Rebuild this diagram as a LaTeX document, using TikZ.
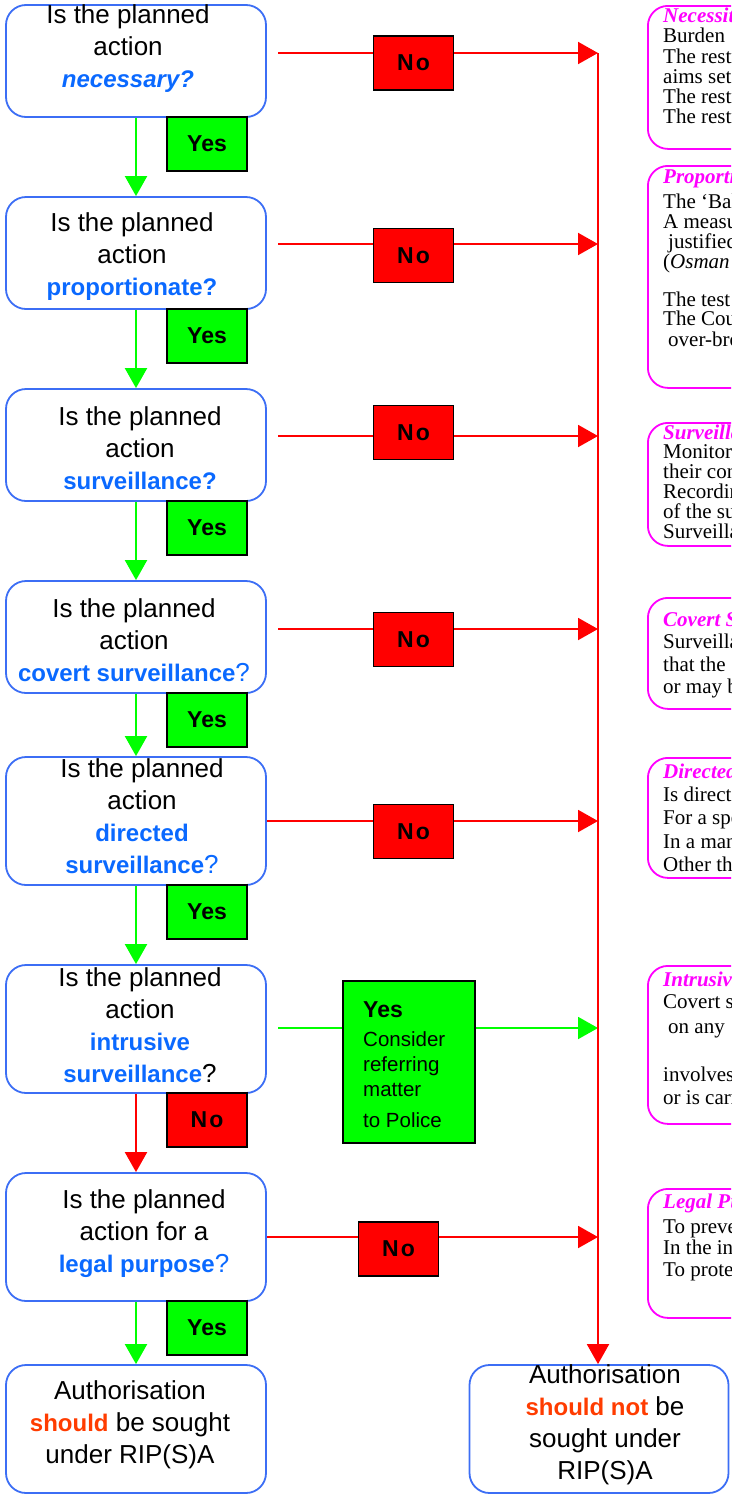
\documentclass[tikz,border=0pt]{standalone}
\usepackage{fontspec}
\setmainfont{Liberation Serif}
\setsansfont{Liberation Sans}
\usetikzlibrary{arrows.meta}

\definecolor{qblue}{RGB}{60,110,245}
\definecolor{kblue}{RGB}{10,105,255}
\definecolor{ygreen}{RGB}{0,255,0}
\definecolor{nred}{RGB}{255,0,0}
\definecolor{pmag}{RGB}{255,0,255}
\definecolor{hot}{RGB}{255,60,0}

% emphasised words inside the question boxes
\newcommand\qkey[1]{{\bfseries\fontsize{24}{32}\selectfont\color{kblue}#1}}
\newcommand\hotword[1]{{\bfseries\fontsize{24}{32}\selectfont\color{hot}#1}}

\begin{document}
\begin{tikzpicture}[x=1pt,y=-1pt,
  qbox/.style={draw=qblue, line width=1.8pt, rounded corners=20pt, fill=white,
               minimum width=260pt, inner sep=0pt},
  qtext/.style={font=\sffamily\fontsize{26}{32}\selectfont, align=center, inner sep=0pt},
  yesbox/.style={draw=black, line width=1.6pt, fill=ygreen, minimum width=80pt,
                 minimum height=54pt, inner sep=0pt,
                 font=\sffamily\bfseries\fontsize{23}{28}\selectfont},
  nobox/.style={yesbox, fill=nred},
  pbox/.style={draw=pmag, line width=1.8pt, rounded corners=20pt, minimum width=160pt,
               anchor=north west, inner sep=0pt},
  ptitle/.style={font=\bfseries\itshape\fontsize{21}{21}\selectfont, text=pmag,
                 anchor=base west, inner sep=0pt},
  ptext/.style={font=\fontsize{21}{21}\selectfont, anchor=base west, inner sep=0pt},
  garrow/.style={draw=ygreen, line width=2pt, -{Triangle[length=20pt,width=22pt]}},
  rarrow/.style={draw=nred, line width=2pt, -{Triangle[length=20pt,width=22pt]}}
]
\useasboundingbox (0,0) rectangle (731,1494);
\clip (0,0) rectangle (731,1494);

% ---------- question boxes ----------
\node[qbox, minimum height=112pt] (q1) at (136,61) {};
\node[qbox, minimum height=112pt] (q2) at (136,253) {};
\node[qbox, minimum height=112pt] (q3) at (136,445) {};
\node[qbox, minimum height=112pt] (q4) at (136,637) {};
\node[qbox, minimum height=128pt] (q5) at (136,821) {};
\node[qbox, minimum height=128pt] (q6) at (136,1029) {};
\node[qbox, minimum height=128pt] (q7) at (136,1237) {};
\node[qbox, minimum height=128pt] (a1) at (136,1429) {};
\node[qbox, minimum height=128pt, minimum width=259pt] (a2) at (599,1429) {};

% ---------- downward flow ----------
\draw[garrow] (q1.south) -- (q2.north);
\draw[garrow] (q2.south) -- (q3.north);
\draw[garrow] (q3.south) -- (q4.north);
\draw[garrow] (q4.south) -- (q5.north);
\draw[garrow] (q5.south) -- (q6.north);
\draw[rarrow] (q6.south) -- (q7.north);
\draw[garrow] (q7.south) -- (a1.north);

% ---------- branches to the right-hand rail ----------
\coordinate (rail) at (598,53);
\coordinate (h1) at (278,53);
\coordinate (h2) at (278,244);
\coordinate (h3) at (278,436);
\coordinate (h4) at (278,629);
\coordinate (h6) at (278,1028);
\draw[rarrow] (h1) -- (h1 -| rail);
\draw[rarrow] (h2) -- (h2 -| rail);
\draw[rarrow] (h3) -- (h3 -| rail);
\draw[rarrow] (h4) -- (h4 -| rail);
\draw[rarrow] (q5.east) -- (q5.east -| rail);
\draw[garrow] (h6) -- (h6 -| rail);
\draw[rarrow] (q7.east) -- (q7.east -| rail);
\draw[rarrow] (rail) -- (rail |- a2.north);

% ---------- Yes / No labels ----------
\node[yesbox] (y1) at (207,144) {Yes};
\node[yesbox] (y2) at (207,336) {Yes};
\node[yesbox] (y3) at (207,528) {Yes};
\node[yesbox] (y4) at (207,720) {Yes};
\node[yesbox] (y5) at (207,912) {Yes};
\node[nobox]  (n6) at (207,1120) {N\kern2pt o};
\node[yesbox] (y7) at (207,1328) {Yes};

\node[nobox] (n1) at (413.5,63) {N\kern2pt o};
\node[nobox] (n2) at (413.5,255.5) {N\kern2pt o};
\node[nobox] (n3) at (413.5,432.5) {N\kern2pt o};
\node[nobox] (n4) at (413.5,639.5) {N\kern2pt o};
\node[nobox] (n5) at (413.5,831.5) {N\kern2pt o};
\node[nobox] (n7) at (398.5,1249) {N\kern2pt o};

\node[yesbox, minimum width=132pt, minimum height=162pt] (y6) at (409,1062) {};
\node[anchor=north west, inner sep=0pt, align=left,
      font=\sffamily\fontsize{20.5}{25}\selectfont] (y6t) at (363,1001)
  {{\bfseries\fontsize{23}{25}\selectfont Yes}\\[4pt]Consider\\referring\\matter\\[6pt]to Police};

% ---------- question texts ----------
\node[qtext] (q1t) at (128,48.5) {Is the planned\\action\\\qkey{\itshape necessary?}};
\node[qtext] (q2t) at (132,256.5) {Is the planned\\action\\\qkey{proportionate?}};
\node[qtext] (q3t) at (140,448) {Is the planned\\action\\\qkey{surveillance?}};
\node[qtext] (q4t) at (134,640) {Is the planned\\action\\\qkey{covert surveillance}\textcolor{kblue}{?}};
\node[qtext] (q5t) at (142,816.5) {Is the planned\\action\\\qkey{directed}\\\qkey{surveillance}\textcolor{kblue}{?}};
\node[qtext] (q6t) at (140,1025) {Is the planned\\action\\\qkey{intrusive}\\\qkey{surveillance}?};
\node[qtext] (q7t) at (144,1234) {Is the planned\\action for a\\\qkey{legal purpose}\textcolor{kblue}{?}};
\node[qtext] (a1t) at (130,1424.5) {Authorisation\\\hotword{should} be sought\\under RIP(S)A};
\node[qtext] (a2t) at (605,1425) {Authorisation\\\hotword{should not} be\\sought under\\RIP(S)A};

% ---------- definition panels (run on past the right edge) ----------
\node[pbox, minimum height=143pt] (p1) at (647,5) {};
\node[pbox, minimum height=222pt] (p2) at (647,165) {};
\node[pbox, minimum height=123pt] (p3) at (647,422) {};
\node[pbox, minimum height=111pt] (p4) at (647,597) {};
\node[pbox, minimum height=120pt] (p5) at (647,757) {};
\node[pbox, minimum height=158pt] (p6) at (647,965) {};
\node[pbox, minimum height=129pt] (p7) at (647,1188) {};

\node[ptitle] (p1t) at (663,16+6.5) {Necessity};
\foreach \y/\t [count=\k] in {36/Burden, 57/The restriction, 77/aims set,
    97/The restriction, 117/The restriction}
  \node[ptext] (p1l\k) at (663,\y+6.5) {\t};

\node[ptitle] (p2t) at (663,177+6.5) {Proportionality};
\foreach \y/\t [count=\k] in {202/{The `Balance}, 222/A measure, 242/{\hspace{5pt}justified},
    262/{(\textit{Osman}}, 300/The test, 319/The Court, 340/{\hspace{5pt}over-broad}}
  \node[ptext] (p2l\k) at (663,\y+6.5) {\t};

\node[ptitle] (p3t) at (663,433+6.5) {Surveillance};
\foreach \y/\t [count=\k] in {452/Monitoring, 472/their conversations, 492/Recording,
    512/of the subject, 532/Surveillance}
  \node[ptext] (p3l\k) at (663,\y+6.5) {\t};

\node[ptitle] (p4t) at (663,620+6.5) {Covert Surveillance};
\foreach \y/\t [count=\k] in {642/Surveillance, 665/that the, 687/or may be}
  \node[ptext] (p4l\k) at (663,\y+6.5) {\t};

\node[ptitle] (p5t) at (663,772+6.5) {Directed};
\foreach \y/\t [count=\k] in {795/Is directed, 818/For a specific, 842/In a manner,
    865/Other than}
  \node[ptext] (p5l\k) at (663,\y+6.5) {\t};

\node[ptitle] (p6t) at (663,980+6.5) {Intrusive};
\foreach \y/\t [count=\k] in {1002/Covert surveillance, 1027/{\hspace{5pt}on any},
    1075/involves, 1098/or is carried}
  \node[ptext] (p6l\k) at (663,\y+6.5) {\t};

\node[ptitle] (p7t) at (663,1202+6.5) {Legal Purpose};
\foreach \y/\t [count=\k] in {1227/To prevent, 1248/In the interests, 1270/To protect}
  \node[ptext] (p7l\k) at (663,\y+6.5) {\t};

\end{tikzpicture}
\end{document}
